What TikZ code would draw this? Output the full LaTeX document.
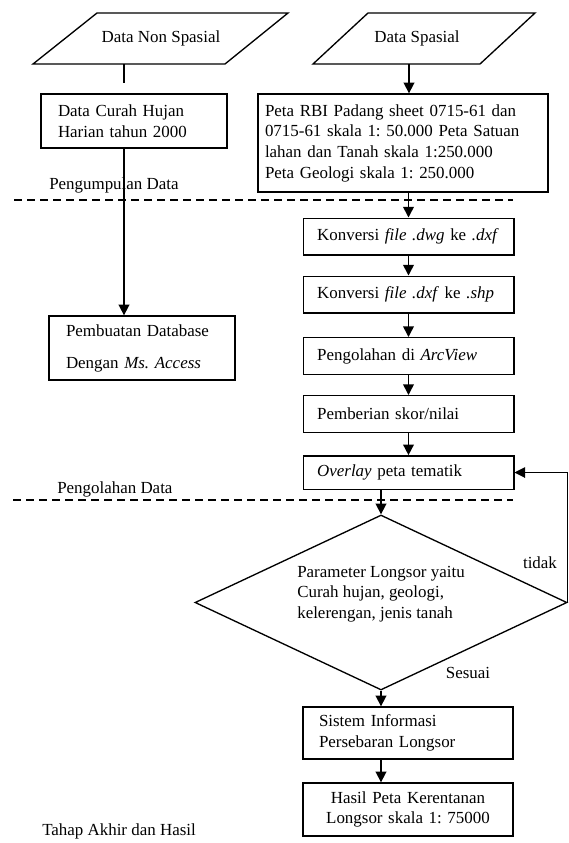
\documentclass[tikz,border=0pt]{standalone}
\usepackage{fontspec}
\setmainfont{Liberation Serif}
\usetikzlibrary{shapes.geometric, arrows.meta}
\frenchspacing

\begin{document}
\begin{tikzpicture}[x=0.75pt, y=-0.75pt,
  font=\fontsize{12.7pt}{15.5pt}\selectfont,
  box/.style={draw, line width=1pt, align=left, inner ysep=2pt},
  rbox/.style={box, text width=137pt, inner xsep=10.5pt, minimum height=27.5pt},
  lbox/.style={box, text width=114pt, inner xsep=12.75pt},
  decision/.style={draw, diamond, line width=1pt, inner sep=0pt, minimum width=279pt, minimum height=131.25pt},
  arr/.style={line width=1.2pt, -{Triangle[length=8pt, width=8pt]}},
  link/.style={line width=1.2pt},
  phase/.style={line width=0.9pt, dash pattern=on 6pt off 3.75pt}]
\useasboundingbox (0,0) rectangle (568,843);
\draw [line width=1pt] (97,13) -- (288,13) -- (225,64) -- (33,64) -- cycle;
\node (nonspasial) at (161,38) {Data Non Spasial};
\draw [line width=1pt] (368,13) -- (535,13) -- (480,64) -- (313,64) -- cycle;
\node (spasial) at (417,38) {Data Spasial};
\coordinate (nonspasial-out) at (124,64);
\coordinate (nonspasial-end) at (124,83);
\coordinate (spasial-out) at (409,64);
\node [lbox, minimum height=40.5pt] (curah) at (134,121) {Data Curah Hujan\\ Harian tahun 2000};
\node [lbox, minimum height=48pt, font=\fontsize{12.7pt}{24pt}\selectfont] (database) at (142,348) {Pembuatan Database\\ Dengan \textit{Ms. Access}};
\node [box, text width=207pt, inner xsep=5.25pt, minimum height=73.5pt] (rbi) at (403,143) {Peta RBI Padang sheet 0715-61 dan\\ 0715-61 skala 1: 50.000 Peta Satuan\\ lahan dan Tanah skala 1:250.000\\ Peta Geologi skala 1: 250.000};
\node [rbox] (dwg) at (408.5,236.5) {Konversi \textit{file .dwg} ke \textit{.dxf}};
\node [rbox] (dxf) at (408.5,294.5) {Konversi \textit{file .dxf} ke \textit{.shp}};
\node [rbox] (arcview) at (408.5,356) {Pengolahan di \textit{ArcView}};
\node [rbox] (skor) at (408.5,414) {Pemberian skor/nilai};
\node [rbox, minimum height=25pt] (overlay) at (408.5,472.5) {\textit{Overlay} peta tematik};
\node [decision] (param) at (381,602.5) {};
\node [align=left] (paramtext) at (381,594) {Parameter Longsor yaitu\\ Curah hujan, geologi,\\ kelerengan, jenis tanah};
\node [rbox, text width=133.5pt, inner xsep=12pt, minimum height=39pt] (sistem) at (408,733) {Sistem Informasi\\ Persebaran Longsor};
\node [rbox, align=center, text width=133.5pt, inner xsep=12pt, minimum height=39.75pt] (hasil) at (408,809.5) {Hasil Peta Kerentanan\\ Longsor skala 1: 75000};
\draw [link] (nonspasial-out) -- (nonspasial-end);
\draw [arr] (curah.south -| nonspasial-out) -- (database.north -| nonspasial-out);
\draw [arr] (spasial-out) -- (spasial-out |- rbi.north);
\draw [arr] (rbi.south -| dwg.north) -- (dwg.north);
\draw [arr] (dwg) -- (dxf);
\draw [arr] (dxf) -- (arcview);
\draw [arr] (arcview) -- (skor);
\draw [arr] (skor) -- (overlay);
\draw [arr] (overlay.south -| param.north) -- (param.north);
\draw [arr] (param.south) -- (sistem.north -| param.south);
\draw [arr] (sistem.south -| param.south) -- (hasil.north -| param.south);
\draw [arr, line width=0.8pt] (param.east) |- (overlay.east);
\draw [phase] (14,200) -- (513,200);
\draw [phase] (13,500) -- (513,500);
\node [right, inner sep=0pt] (kumpul) at (49,185) {Pengumpulan Data};
\node [right, inner sep=0pt] (olah) at (57,489) {Pengolahan Data};
\node [right, inner sep=0pt] (akhir) at (42,831) {Tahap Akhir dan Hasil};
\node (tidak) at (540,563) {tidak};
\node (sesuai) at (468,673) {Sesuai};
\end{tikzpicture}
\end{document}
